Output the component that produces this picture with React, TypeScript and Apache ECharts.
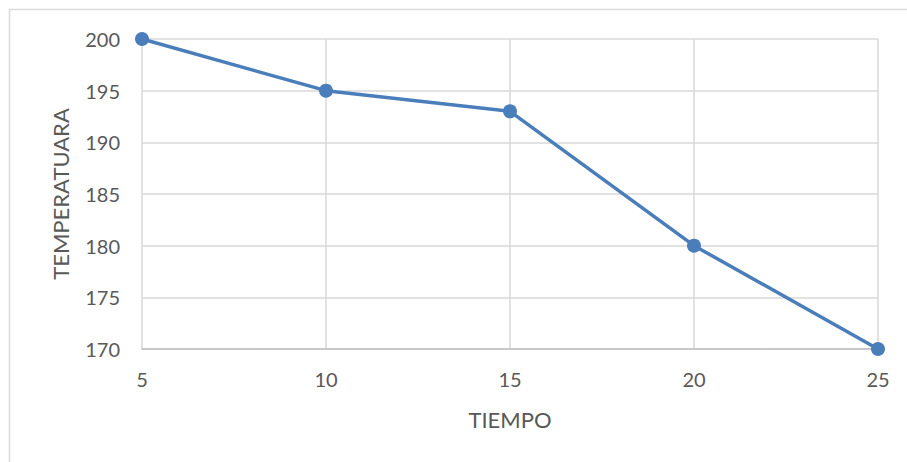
import React, { useEffect, useRef } from "react";
import * as echarts from "echarts";

const tiempo = [5, 10, 15, 20, 25];
const temperatura = [200, 195, 193, 180, 170];

const xName = "TIEMPO";
const yName = "TEMPERATUARA";

const FONT = "Lato, 'Open Sans', sans-serif";
const TEXT = "#595959";
const GRID = "#d9d9d9";
const LINE = "#4a7ebb";

export default function App() {
  const ref = useRef<HTMLDivElement>(null);

  useEffect(() => {
    if (!ref.current) return;
    const chart = echarts.init(ref.current, undefined, { renderer: "svg" });
    chart.setOption({
      animation: false,
      backgroundColor: "#ffffff",
      graphic: [
        {
          type: "rect",
          shape: { x: 9.5, y: 9.5, width: 1000, height: 1000 },
          style: { fill: "none", stroke: GRID, lineWidth: 1.5 },
          silent: true,
        },
      ],
      grid: { left: 142, right: 29, top: 39, bottom: 113 },
      xAxis: {
        type: "value",
        min: 5,
        max: 25,
        interval: 5,
        name: xName,
        nameLocation: "middle",
        nameGap: 59,
        nameTextStyle: { color: TEXT, fontSize: 22, fontFamily: FONT },
        axisLine: { show: true, lineStyle: { color: "#bfbfbf", width: 1.5 } },
        axisTick: { show: false },
        axisLabel: { color: TEXT, fontSize: 20, fontFamily: FONT, margin: 20 },
        splitLine: { show: true, lineStyle: { color: GRID, width: 1.5 } },
      },
      yAxis: {
        type: "value",
        min: 170,
        max: 200,
        interval: 5,
        name: yName,
        nameLocation: "middle",
        nameGap: 71,
        nameRotate: 90,
        nameTextStyle: { color: TEXT, fontSize: 22, fontFamily: FONT },
        axisLine: { show: false },
        axisTick: { show: false },
        axisLabel: { color: TEXT, fontSize: 20, fontFamily: FONT, margin: 22 },
        splitLine: { show: true, lineStyle: { color: GRID, width: 1.5 } },
      },
      series: [
        {
          type: "line",
          data: tiempo.map((t, i) => [t, temperatura[i]]),
          symbol: "circle",
          symbolSize: 14,
          lineStyle: { color: LINE, width: 3.5 },
          itemStyle: { color: LINE },
        },
      ],
    });
    return () => chart.dispose();
  }, []);

  return (
    <div
      ref={ref}
      style={{ position: "absolute", left: 0, top: 0, width: 907, height: 462 }}
    />
  );
}
